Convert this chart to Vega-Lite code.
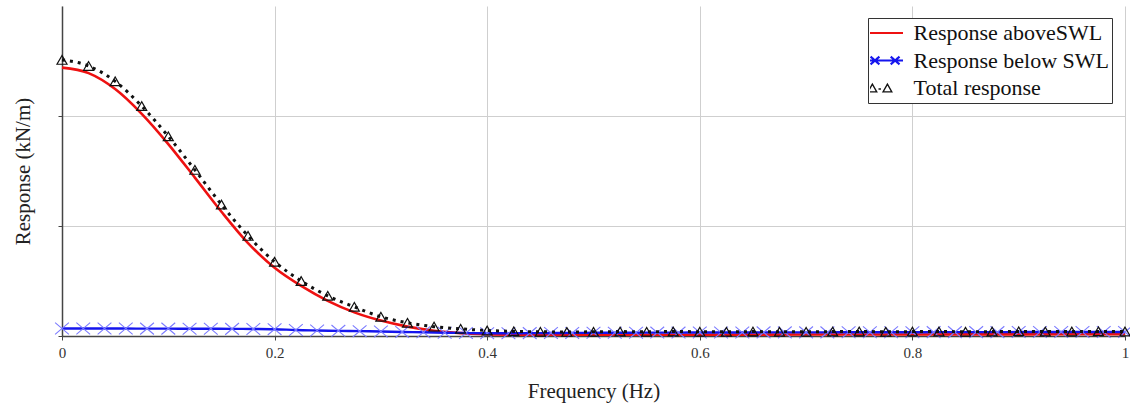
{
  "$schema": "https://vega.github.io/schema/vega-lite/v6.json",
  "width": 1063,
  "height": 330,
  "autosize": {"type": "none"},
  "padding": {"left": 62, "top": 6, "right": 5, "bottom": 72},
  "background": "white",
  "config": {"view": {"stroke": null}, "font": "Liberation Serif"},
  "data": {
    "values": [
      {"f": 0, "s": "Response aboveSWL", "r": 2.44},
      {"f": 0.025, "s": "Response aboveSWL", "r": 2.39},
      {"f": 0.05, "s": "Response aboveSWL", "r": 2.245},
      {"f": 0.075, "s": "Response aboveSWL", "r": 2.02},
      {"f": 0.1, "s": "Response aboveSWL", "r": 1.745},
      {"f": 0.125, "s": "Response aboveSWL", "r": 1.44},
      {"f": 0.15, "s": "Response aboveSWL", "r": 1.13},
      {"f": 0.175, "s": "Response aboveSWL", "r": 0.845},
      {"f": 0.2, "s": "Response aboveSWL", "r": 0.62},
      {"f": 0.225, "s": "Response aboveSWL", "r": 0.455},
      {"f": 0.25, "s": "Response aboveSWL", "r": 0.32},
      {"f": 0.275, "s": "Response aboveSWL", "r": 0.215},
      {"f": 0.3, "s": "Response aboveSWL", "r": 0.14},
      {"f": 0.325, "s": "Response aboveSWL", "r": 0.085},
      {"f": 0.35, "s": "Response aboveSWL", "r": 0.048},
      {"f": 0.375, "s": "Response aboveSWL", "r": 0.026},
      {"f": 0.4, "s": "Response aboveSWL", "r": 0.016},
      {"f": 0.425, "s": "Response aboveSWL", "r": 0.012},
      {"f": 0.45, "s": "Response aboveSWL", "r": 0.011},
      {"f": 0.5, "s": "Response aboveSWL", "r": 0.011},
      {"f": 0.6, "s": "Response aboveSWL", "r": 0.012},
      {"f": 0.7, "s": "Response aboveSWL", "r": 0.013},
      {"f": 0.8, "s": "Response aboveSWL", "r": 0.014},
      {"f": 0.9, "s": "Response aboveSWL", "r": 0.015},
      {"f": 1, "s": "Response aboveSWL", "r": 0.016},

      {"f": 0, "s": "Response below SWL", "r": 0.068},
      {"f": 0.02, "s": "Response below SWL", "r": 0.068},
      {"f": 0.04, "s": "Response below SWL", "r": 0.068},
      {"f": 0.06, "s": "Response below SWL", "r": 0.068},
      {"f": 0.08, "s": "Response below SWL", "r": 0.067},
      {"f": 0.1, "s": "Response below SWL", "r": 0.067},
      {"f": 0.12, "s": "Response below SWL", "r": 0.066},
      {"f": 0.14, "s": "Response below SWL", "r": 0.066},
      {"f": 0.16, "s": "Response below SWL", "r": 0.065},
      {"f": 0.18, "s": "Response below SWL", "r": 0.064},
      {"f": 0.2, "s": "Response below SWL", "r": 0.062},
      {"f": 0.22, "s": "Response below SWL", "r": 0.054},
      {"f": 0.24, "s": "Response below SWL", "r": 0.05},
      {"f": 0.26, "s": "Response below SWL", "r": 0.047},
      {"f": 0.28, "s": "Response below SWL", "r": 0.044},
      {"f": 0.3, "s": "Response below SWL", "r": 0.041},
      {"f": 0.32, "s": "Response below SWL", "r": 0.037},
      {"f": 0.34, "s": "Response below SWL", "r": 0.034},
      {"f": 0.36, "s": "Response below SWL", "r": 0.03},
      {"f": 0.38, "s": "Response below SWL", "r": 0.027},
      {"f": 0.4, "s": "Response below SWL", "r": 0.025},
      {"f": 0.42, "s": "Response below SWL", "r": 0.025},
      {"f": 0.44, "s": "Response below SWL", "r": 0.026},
      {"f": 0.46, "s": "Response below SWL", "r": 0.027},
      {"f": 0.48, "s": "Response below SWL", "r": 0.028},
      {"f": 0.5, "s": "Response below SWL", "r": 0.029},
      {"f": 0.52, "s": "Response below SWL", "r": 0.03},
      {"f": 0.54, "s": "Response below SWL", "r": 0.03},
      {"f": 0.56, "s": "Response below SWL", "r": 0.031},
      {"f": 0.58, "s": "Response below SWL", "r": 0.031},
      {"f": 0.6, "s": "Response below SWL", "r": 0.032},
      {"f": 0.62, "s": "Response below SWL", "r": 0.032},
      {"f": 0.64, "s": "Response below SWL", "r": 0.032},
      {"f": 0.66, "s": "Response below SWL", "r": 0.033},
      {"f": 0.68, "s": "Response below SWL", "r": 0.033},
      {"f": 0.7, "s": "Response below SWL", "r": 0.033},
      {"f": 0.72, "s": "Response below SWL", "r": 0.033},
      {"f": 0.74, "s": "Response below SWL", "r": 0.034},
      {"f": 0.76, "s": "Response below SWL", "r": 0.034},
      {"f": 0.78, "s": "Response below SWL", "r": 0.034},
      {"f": 0.8, "s": "Response below SWL", "r": 0.034},
      {"f": 0.82, "s": "Response below SWL", "r": 0.035},
      {"f": 0.84, "s": "Response below SWL", "r": 0.035},
      {"f": 0.86, "s": "Response below SWL", "r": 0.035},
      {"f": 0.88, "s": "Response below SWL", "r": 0.035},
      {"f": 0.9, "s": "Response below SWL", "r": 0.036},
      {"f": 0.92, "s": "Response below SWL", "r": 0.036},
      {"f": 0.94, "s": "Response below SWL", "r": 0.036},
      {"f": 0.96, "s": "Response below SWL", "r": 0.036},
      {"f": 0.98, "s": "Response below SWL", "r": 0.036},
      {"f": 1, "s": "Response below SWL", "r": 0.036},

      {"f": 0, "s": "Total response", "r": 2.51},
      {"f": 0.025, "s": "Total response", "r": 2.455},
      {"f": 0.05, "s": "Total response", "r": 2.315},
      {"f": 0.075, "s": "Total response", "r": 2.09},
      {"f": 0.1, "s": "Total response", "r": 1.815},
      {"f": 0.125, "s": "Total response", "r": 1.51},
      {"f": 0.15, "s": "Total response", "r": 1.195},
      {"f": 0.175, "s": "Total response", "r": 0.91},
      {"f": 0.2, "s": "Total response", "r": 0.675},
      {"f": 0.225, "s": "Total response", "r": 0.5},
      {"f": 0.25, "s": "Total response", "r": 0.365},
      {"f": 0.275, "s": "Total response", "r": 0.265},
      {"f": 0.3, "s": "Total response", "r": 0.175},
      {"f": 0.325, "s": "Total response", "r": 0.12},
      {"f": 0.35, "s": "Total response", "r": 0.085},
      {"f": 0.375, "s": "Total response", "r": 0.065},
      {"f": 0.4, "s": "Total response", "r": 0.05},
      {"f": 0.425, "s": "Total response", "r": 0.042},
      {"f": 0.45, "s": "Total response", "r": 0.038},
      {"f": 0.475, "s": "Total response", "r": 0.037},
      {"f": 0.5, "s": "Total response", "r": 0.038},
      {"f": 0.525, "s": "Total response", "r": 0.04},
      {"f": 0.55, "s": "Total response", "r": 0.038},
      {"f": 0.575, "s": "Total response", "r": 0.041},
      {"f": 0.6, "s": "Total response", "r": 0.039},
      {"f": 0.625, "s": "Total response", "r": 0.038},
      {"f": 0.65, "s": "Total response", "r": 0.04},
      {"f": 0.675, "s": "Total response", "r": 0.039},
      {"f": 0.7, "s": "Total response", "r": 0.038},
      {"f": 0.725, "s": "Total response", "r": 0.04},
      {"f": 0.75, "s": "Total response", "r": 0.041},
      {"f": 0.775, "s": "Total response", "r": 0.039},
      {"f": 0.8, "s": "Total response", "r": 0.04},
      {"f": 0.825, "s": "Total response", "r": 0.041},
      {"f": 0.85, "s": "Total response", "r": 0.039},
      {"f": 0.875, "s": "Total response", "r": 0.04},
      {"f": 0.9, "s": "Total response", "r": 0.042},
      {"f": 0.925, "s": "Total response", "r": 0.04},
      {"f": 0.95, "s": "Total response", "r": 0.041},
      {"f": 0.975, "s": "Total response", "r": 0.042},
      {"f": 1, "s": "Total response", "r": 0.041}
    ]
  },
  "encoding": {
    "x": {
      "field": "f", "type": "quantitative",
      "scale": {"domain": [0, 1], "nice": false},
      "axis": {
        "values": [0, 0.2, 0.4, 0.6, 0.8, 1], "format": "~g", "labelFlush": false,
        "title": "Frequency (Hz)", "grid": true, "gridColor": "#cfcfcf", "gridWidth": 1,
        "domainColor": "#444", "domainWidth": 1.5, "tickColor": "#444", "tickSize": 4,
        "labelFont": "Liberation Serif", "labelFontSize": 15, "labelColor": "#333", "labelPadding": 5,
        "titleFont": "Liberation Serif", "titleFontSize": 21, "titleFontWeight": "normal", "titleColor": "#222", "titlePadding": 20
      }
    },
    "y": {
      "field": "r", "type": "quantitative",
      "scale": {"domain": [0, 3], "nice": false},
      "axis": {
        "values": [0, 1, 2], "labels": false,
        "title": "Response (kN/m)", "grid": true, "gridColor": "#cfcfcf", "gridWidth": 1,
        "domainColor": "#444", "domainWidth": 1.5, "tickColor": "#444", "tickSize": 4,
        "titleFont": "Liberation Serif", "titleFontSize": 21, "titleFontWeight": "normal", "titleColor": "#222", "titlePadding": 24
      }
    },
    "color": {
      "field": "s", "type": "nominal",
      "scale": {"domain": ["Response aboveSWL", "Response below SWL", "Total response"], "range": ["#ee1111", "#1515ee", "#111111"]},
      "legend": {
        "title": null, "orient": "none", "legendX": 806, "legendY": 12, "direction": "vertical",
        "strokeColor": "#333", "fillColor": "white", "padding": 2,
        "labelFont": "Liberation Serif", "labelFontSize": 22, "labelColor": "#111", "labelOffset": 17, "labelLimit": 400,
        "labelExpr": "datum.label + '\u00a0\u00a0\u00a0\u00a0'",
        "symbolSize": 1225, "symbolOffset": 4.5, "clipHeight": 26, "rowPadding": 1.5, "symbolStrokeWidth": 2, "symbolType": "M-1,0L1,0",
        "encode": {
          "symbols": {
            "update": {
              "shape": {"signal": "datum.value === 'Total response' ? 'M-1,0.22L-0.75,-0.22L-0.5,0.22ZM-0.4,0.06L-0.26,0.06M-0.14,0.22L0.11,-0.22L0.36,0.22Z' : datum.value === 'Response below SWL' ? 'M-1,0L1,0M-0.85,-0.22L-0.35,0.22M-0.85,0.22L-0.35,-0.22M0.3,-0.22L0.8,0.22M0.3,0.22L0.8,-0.22' : 'M-1,0L1,0'"},
              "strokeWidth": {"signal": "datum.value === 'Total response' ? 1.4 : 2.2"},
              "strokeDash": {"value": [1, 0]},
              "fill": {"value": "transparent"},
              "opacity": {"value": 1}
            }
          }
        }
      }
    }
  },
  "layer": [
    {
      "transform": [{"filter": "datum.s === 'Response aboveSWL'"}],
      "mark": {"type": "line", "strokeWidth": 2.6, "interpolate": "monotone"}
    },
    {
      "transform": [{"filter": "datum.s === 'Response below SWL'"}],
      "mark": {"type": "line", "strokeWidth": 2.4, "interpolate": "monotone"}
    },
    {
      "transform": [{"filter": "datum.s === 'Response below SWL'"}],
      "mark": {"type": "point", "shape": "M-1,-0.85L1,0.85M-1,0.85L1,-0.85", "size": 190, "filled": false, "strokeWidth": 1.1, "opacity": 1},
      "encoding": {"color": {"value": "#7a7aff"}}
    },
    {
      "transform": [{"filter": "datum.s === 'Total response'"}],
      "mark": {"type": "line", "strokeWidth": 3, "strokeDash": [3, 5], "interpolate": "monotone"}
    },
    {
      "transform": [{"filter": "datum.s === 'Total response'"}],
      "mark": {"type": "point", "shape": "triangle-up", "size": 100, "filled": false, "strokeWidth": 1.2, "opacity": 1},
      "encoding": {"color": {"value": "#111111"}}
    }
  ]
}
